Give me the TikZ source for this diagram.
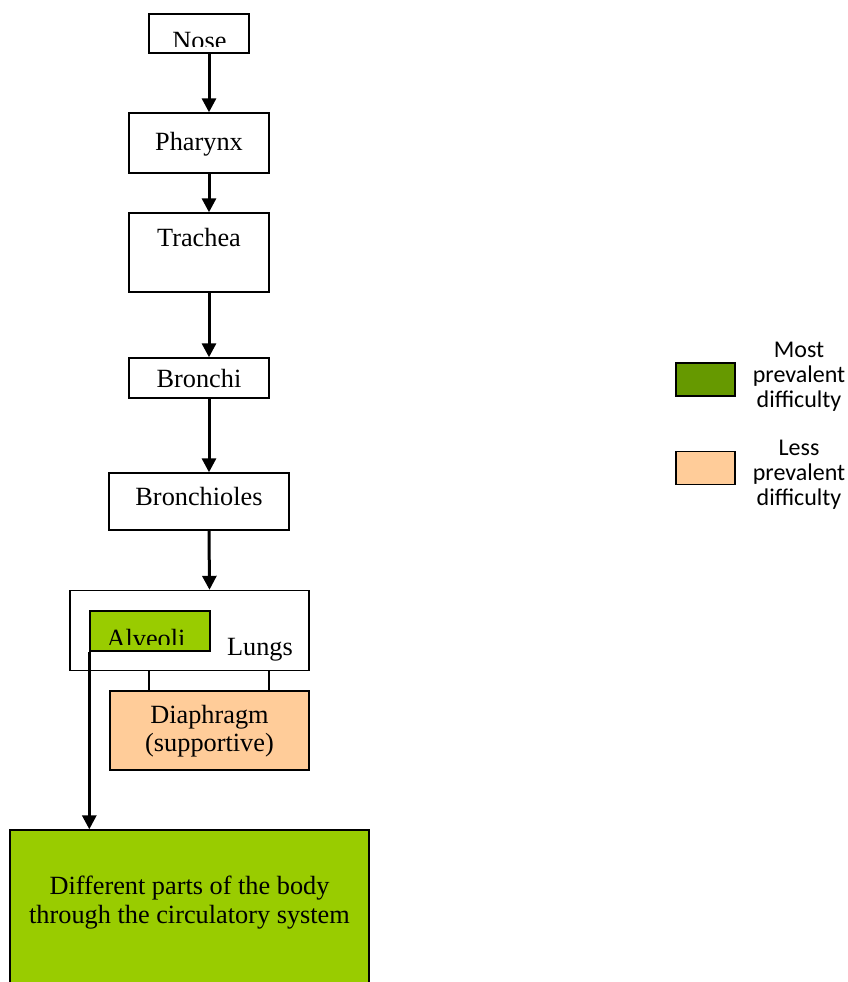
\documentclass[tikz,border=0pt]{standalone}
\usepackage{fontspec}
\setmainfont{Liberation Serif}
\newfontfamily\legendfont{Carlito}
\usetikzlibrary{arrows.meta}
\definecolor{alvgreen}{HTML}{99CC00}
\definecolor{darkgreen}{HTML}{669900}
\definecolor{peach}{HTML}{FFCC99}
\begin{document}
\begin{tikzpicture}[x=1pt,y=-1pt,
  organ/.style={draw=black,line width=1.4pt,fill=white,rectangle,inner sep=0pt},
  lbl/.style={font=\fontsize{26.3}{27.5}\selectfont,inner sep=0pt,align=center},
  flow/.style={line width=3pt,-{Triangle[width=14pt,length=14pt]}},
  joint/.style={line width=1.2pt},
  keybox/.style={draw=black,line width=1.2pt,rectangle,inner sep=0pt,minimum width=59pt,minimum height=33pt},
  keytext/.style={font=\legendfont\fontsize{24}{25}\selectfont,inner sep=0pt,align=center}]
\clip (0,0) rectangle (848,982);

% airway boxes
\node[organ,minimum width=100pt,minimum height=39pt] (nose) at (199,33.5) {};
\node[organ,minimum width=140pt,minimum height=60pt] (pharynx) at (199,143) {};
\node[organ,minimum width=140pt,minimum height=79pt] (trachea) at (199,252.5) {};
\node[organ,minimum width=140pt,minimum height=40pt] (bronchi) at (199,378) {};
\node[organ,minimum width=180pt,minimum height=57pt] (bronchioles) at (199,501.5) {};
\node[organ,minimum width=239pt,minimum height=80pt] (lungs) at (189.5,630.5) {};
\node[organ,fill=alvgreen,minimum width=120pt,minimum height=40pt] (alveoli) at (150,631) {};
\node[organ,fill=peach,minimum width=199pt,minimum height=79pt] (diaphragm) at (209.5,730.5) {};
\node[organ,fill=alvgreen,minimum width=359pt,minimum height=170pt] (body) at (189.5,915) {};

% labels (the top two are cut off by their boxes' inner margin)
\begin{scope}
  \clip (nose.north west) rectangle ([yshift=7pt]nose.south east);
  \node[lbl,anchor=base] (nosetxt) at (199.5,49) {Nose};
\end{scope}
\node[lbl,anchor=base] (pharynxtxt) at (199,150) {Pharynx};
\node[lbl,anchor=base] (tracheatxt) at (199,246) {Trachea};
\node[lbl,anchor=base] (bronchitxt) at (199,387) {Bronchi};
\node[lbl,anchor=base] (bronchiolestxt) at (199,505) {Bronchioles};
\begin{scope}
  \clip (alveoli.north west) rectangle ([yshift=7pt]alveoli.south east);
  \node[lbl,anchor=base] (alveolitxt) at (146,647) {Alveoli};
\end{scope}
\node[lbl,anchor=base] (lungstxt) at (260,655) {Lungs};
\node[lbl] (diaphragmtxt) at (209.5,731) {Diaphragm\\(supportive)};
\node[lbl,font=\fontsize{26.3}{29.5}\selectfont] (bodytxt) at (189.5,902.5) {Different parts of the body\\through the circulatory system};

% airflow
\draw[flow] ([xshift=10pt]nose.south) -- ([xshift=10pt]pharynx.north);
\draw[flow] ([xshift=10pt]pharynx.south) -- ([xshift=10pt]trachea.north);
\draw[flow] ([xshift=10pt]trachea.south) -- ([xshift=10pt]bronchi.north);
\draw[flow] ([xshift=10pt]bronchi.south) -- ([xshift=10pt]bronchioles.north);
\draw[flow] ([xshift=10pt]bronchioles.south) -- ([xshift=20pt]lungs.north);
\draw[flow] (alveoli.south west) -- (alveoli.south west |- body.north);

% lungs attached to diaphragm
\draw[joint] (lungs.south -| 149,0) -- (diaphragm.north -| 149,0);
\draw[joint] (lungs.south -| 269,0) -- (diaphragm.north -| 269,0);

% legend
\node[keybox,fill=darkgreen] (keymost) at (705.5,379.5) {};
\node[keytext] (keymosttxt) at (799,377) {Most\\prevalent\\difficulty};
\node[keybox,fill=peach] (keyless) at (705.5,468) {};
\node[keytext] (keylesstxt) at (799,475) {Less\\prevalent\\difficulty};
\end{tikzpicture}
\end{document}
